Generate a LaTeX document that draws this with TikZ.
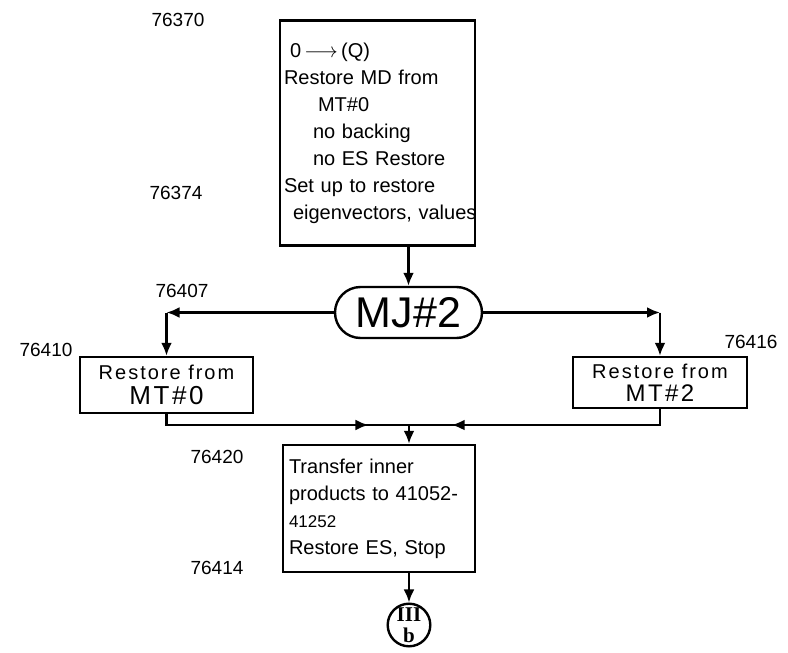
\documentclass[tikz,border=0pt]{standalone}
\usepackage{fontspec}
\setmainfont{Liberation Sans}
\newfontfamily\romfont{Liberation Serif}
\usepackage{tikz}
\usetikzlibrary{arrows.meta, shapes.misc, decorations.markings, calc}
\newcommand\wideline[2]{{\fontsize{#1}{#1}\selectfont\addfontfeature{LetterSpace=10}#2}}

\begin{document}
\begin{tikzpicture}[
    x=1pt, y=-1pt,
    font=\fontsize{20}{27}\selectfont,
    line width=2.4pt,
    block/.style={draw, rectangle, inner sep=0pt},
    term/.style={draw, rounded rectangle, minimum width=147pt, minimum height=51pt, inner sep=0pt, font=\fontsize{43}{43}\selectfont},
    conn/.style={draw, circle, minimum size=42pt, inner sep=0pt, align=center},
    addr/.style={font=\fontsize{19}{19}\selectfont},
    arrow/.style={-{Latex[length=13pt,width=11pt]}},
    midarrow/.style={postaction={decorate}, decoration={markings, mark=at position #1 with {\arrow{Latex[length=13pt,width=11pt]}}}}
]
\useasboundingbox (0,0) rectangle (788,653);

% Main chain
\node[block, minimum width=195pt, minimum height=225pt, text width=187pt, align=left] (restore) at (377.5,133) {%
\hspace*{6pt}0\,$\longrightarrow$\,(Q)\\
\mbox{Restore MD from}\\
\hspace*{34pt}MT\#0\\
\hspace*{29pt}no backing\\
\hspace*{29pt}\mbox{no ES Restore}\\
\mbox{Set up to restore}\\
\hspace*{9pt}\mbox{eigenvectors, values}};
\node[term] (mj) at (408.5,312.5) {MJ\#2};

% Tape branches
\node[block, minimum width=173pt, minimum height=56pt, align=center] (mtzero) at (166.5,385) {\wideline{20}{Restore from}\\[-2pt]\wideline{26}{MT\#0}};
\node[block, minimum width=174pt, minimum height=51pt, align=center] (mttwo) at (660,382.5) {\wideline{20}{Restore from}\\[-4pt]\wideline{24}{MT\#2}};

% Transfer and exit
\coordinate (merge) at (409,425);
\node[block, minimum width=192pt, minimum height=127pt, text width=180pt, align=left] (transfer) at (379,508.5) {%
\mbox{Transfer inner}\\
\mbox{products to 41052-}\\
{\fontsize{17}{27}\selectfont 41252}\\
\mbox{Restore ES, Stop}};
\node[conn] (exit) at (409,625) {{\romfont\bfseries\fontsize{21}{21}\selectfont III}\\[-6pt]{\romfont\bfseries\fontsize{21}{21}\selectfont b}};

% Addresses
\node[addr] (a76370) at (178,20) {76370};
\node[addr] (a76374) at (176,193) {76374};
\node[addr] (a76407) at (182,291) {76407};
\node[addr] (a76410) at (46,350) {76410};
\node[addr] (a76416) at (751,342) {76416};
\node[addr] (a76420) at (217,457) {76420};
\node[addr] (a76414) at (217,568) {76414};

% Arrows
\coordinate (lturn) at (mtzero.north |- mj.west);
\coordinate (rturn) at (mttwo.north |- mj.east);
\draw[arrow] (restore.south -| mj.north) -- (mj.north);
\draw[arrow] (mj.west) -- (lturn);
\draw[arrow] (lturn) -- (mtzero.north);
\draw[arrow] (mj.east) -- (rturn);
\draw[arrow] (rturn) -- (mttwo.north);
\draw[midarrow=0.84] (mtzero.south) |- (merge);
\draw[midarrow=0.84] (mttwo.south) |- (merge);
\draw[arrow] (merge) -- (transfer.north -| merge);
\draw[arrow] (transfer.south -| exit.north) -- (exit.north);
\end{tikzpicture}
\end{document}
